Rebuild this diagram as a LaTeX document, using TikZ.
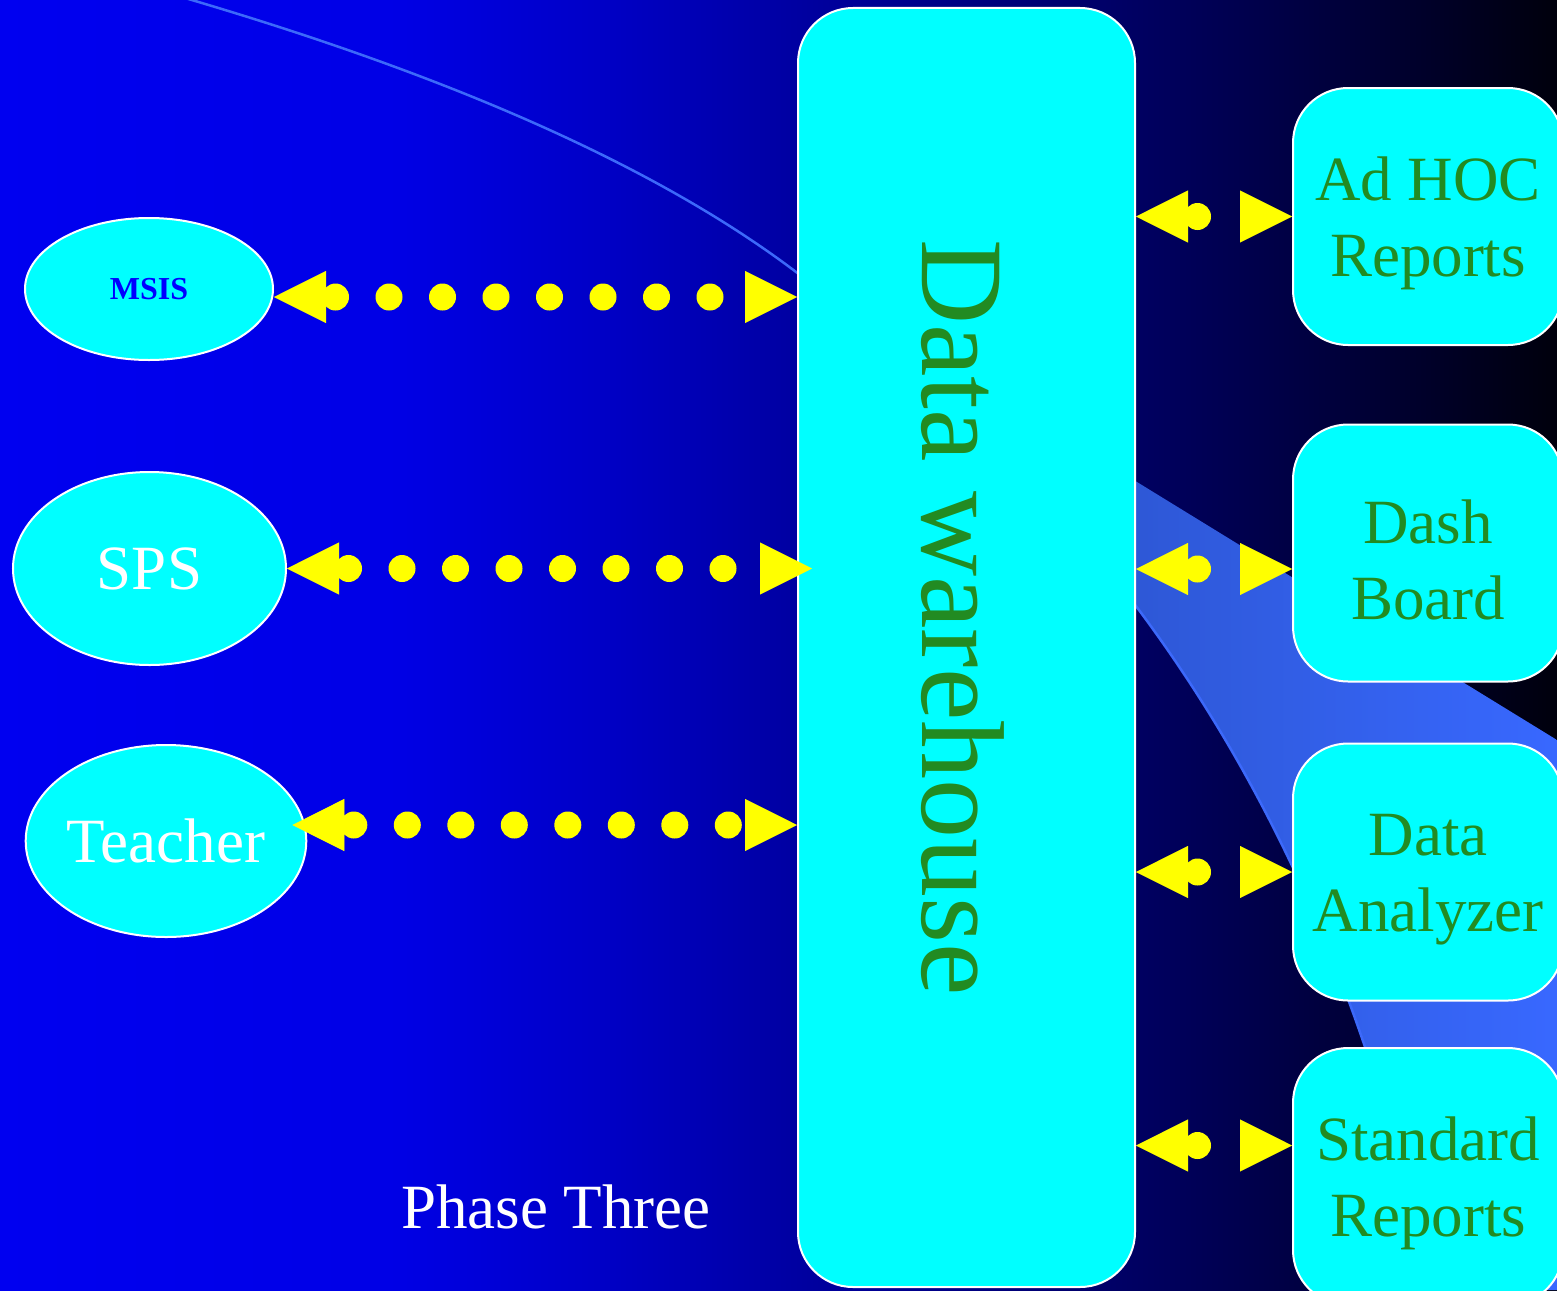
\documentclass[tikz,border=0pt]{standalone}
\usepackage{fontspec}
\setmainfont{Liberation Serif}
\usetikzlibrary{arrows.meta,shapes.geometric}

\definecolor{boxcyan}{RGB}{0,255,255}
\definecolor{leafgreen}{RGB}{34,139,34}
\definecolor{linkyellow}{RGB}{255,255,0}
\definecolor{bandleft}{RGB}{38,75,182}
\definecolor{bandright}{RGB}{56,104,255}
\definecolor{arcblue}{RGB}{60,105,250}

% background: bright blue on the left, near black on the right
\pgfdeclarehorizontalshading{bgshade}{100bp}{rgb(0bp)=(0,0,0.941); rgb(25bp)=(0,0,0.941);
  rgb(37.5bp)=(0,0,0.902); rgb(44bp)=(0,0,0.784); rgb(64.5bp)=(0,0,0.314);
  rgb(71bp)=(0,0,0.157); rgb(75bp)=(0,0,0.047); rgb(100bp)=(0,0,0.047)}

\tikzset{
  source/.style={ellipse, draw=white, line width=2pt, fill=boxcyan, inner sep=0pt,
    text=white, font=\fontsize{63}{76}\selectfont},
  sidebox/.style={draw=white, line width=2pt, fill=boxcyan, rounded corners=55pt,
    minimum width=270pt, minimum height=257pt, inner sep=0pt, align=center,
    text=leafgreen, font=\fontsize{63}{76}\selectfont},
  link/.style={draw=linkyellow, line width=0.4pt, line cap=butt, dash pattern=on 0pt off 3000pt,
    {Triangle[length=52pt,width=52pt]}-{Triangle[length=52pt,width=52pt]},
    postaction={draw=linkyellow, -, line width=27pt, line cap=round,
      dash pattern=on 0pt off 53.5pt, dash phase=44pt,
      shorten <=52pt, shorten >=52pt}},
}

\begin{document}
\begin{tikzpicture}[x=1pt, y=-1pt]
	% Background
	\shade[shading=bgshade] (0,0) rectangle (1557,1290);
	\useasboundingbox (0,0) rectangle (1557,1290);
	\shade[left color=bandleft, right color=bandright] (800,275) -- (1557,740) -- (1557,1290) -- (1430,1290)
		.. controls (1330,800) and (1100,500) .. (800,275) -- cycle;
	\draw[arcblue, line width=2.5pt] (185,-2) .. controls (430,70) and (650,160) .. (800,275)
		.. controls (1100,500) and (1330,800) .. (1430,1290);

	% Nodes
	\node[draw=white, line width=2pt, fill=boxcyan, rounded corners=55pt, minimum width=337pt,
		minimum height=1279pt, inner sep=0pt] (dw) at (966.5,647.5) {};
	\node[rotate=-90, text=leafgreen, font=\fontsize{118}{130}\selectfont] (dwlabel)
		at ([yshift=30pt,xshift=-4pt]dw.center) {Data warehouse};

	\node[source, minimum width=248pt, minimum height=142pt, text=blue,
		font=\bfseries\fontsize{32}{36}\selectfont] (msis) at (149,289) {MSIS};
	\node[source, minimum width=273pt, minimum height=193pt] (sps) at (149.5,568.5) {SPS};
	\node[source, minimum width=272pt, minimum height=192pt] (teacher) at (166,841) {Teacher};

	\node[text=white, font=\fontsize{63}{76}\selectfont] (phase) at (556,1207) {Phase Three};

	% Links to the sources
	\coordinate (pmsis) at ([yshift=-8pt]msis.east);
	\coordinate (psps) at (sps.east);
	\coordinate (pspsend) at ([xshift=15pt]dw.west |- sps.east);
	\coordinate (pteacher) at ([xshift=-15pt,yshift=16pt]teacher.east);
	\draw[link] (pmsis) -- (pmsis -| dw.west);
	\draw[link] (psps) -- (pspsend);
	\draw[link] (pteacher) -- (pteacher -| dw.west);

	% Report boxes
	\foreach \nm/\txt/\yy/\off in {adhoc/{Ad HOC\\Reports}/216.5/0, dash/{Dash\\Board}/553/-16,
		analyzer/{Data\\Analyzer}/872/0, stdrep/{Standard\\Reports}/1176.5/31} {
		\node[sidebox] (\nm) at (1428,\yy) {\rule{0pt}{57pt}\txt};
		\coordinate (p\nm) at ([yshift=\off pt]\nm.west);
		\draw[link] (p\nm -| dw.east) -- (p\nm);
	}
\end{tikzpicture}
\end{document}
